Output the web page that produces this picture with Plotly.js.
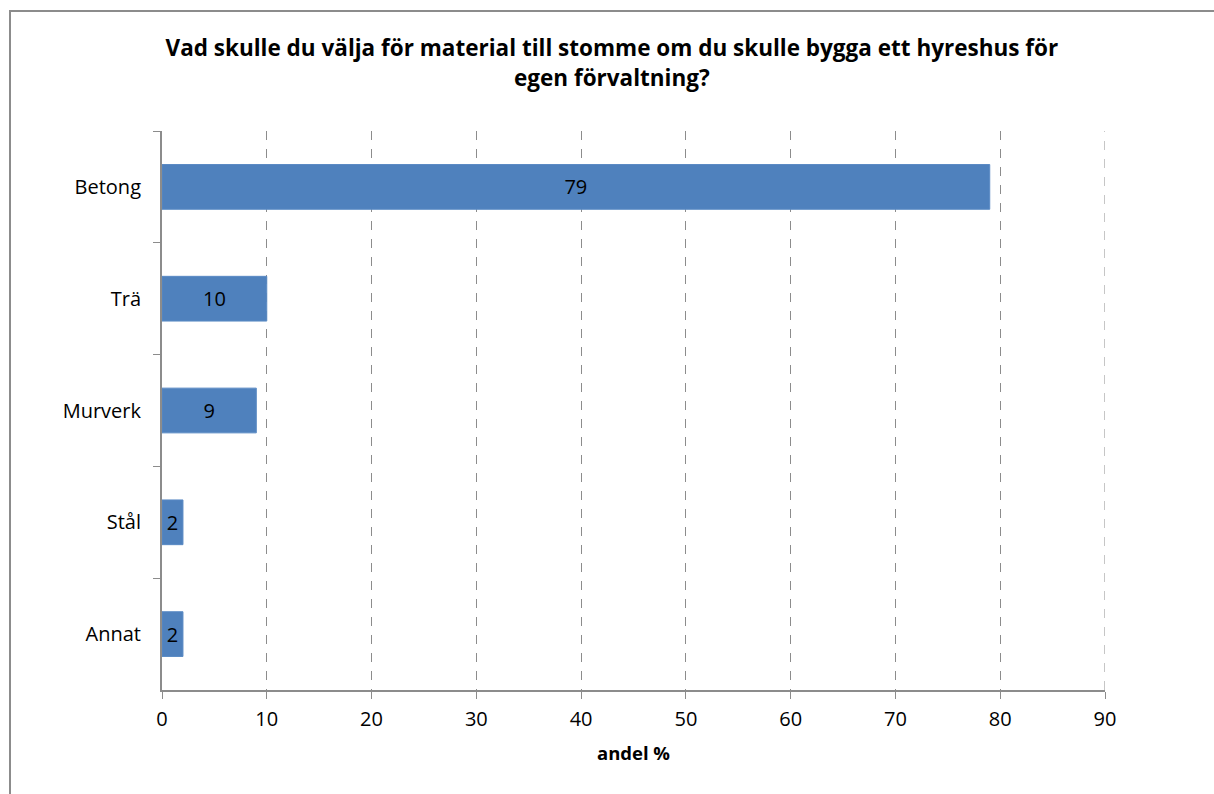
<!DOCTYPE html>
<html>
<head>
<meta charset="utf-8">
<script src="https://cdn.plot.ly/plotly-3.0.1.min.js"></script>
<style>
html,body{margin:0;padding:0;background:#fff;}
#frame{position:absolute;left:9px;top:10px;width:1220px;height:800px;border:2px solid #8c8c8c;box-sizing:border-box;pointer-events:none;}
#chart{position:absolute;left:0;top:0;width:1214px;height:794px;}
</style>
</head>
<body>
<div id="chart"></div>
<div id="frame"></div>
<script>
const categories = ["Betong", "Trä", "Murverk", "Stål", "Annat"];
const values = [79, 10, 9, 2, 2];
const xTicks = [0, 10, 20, 30, 40, 50, 60, 70, 80, 90];
const titleText = "Vad skulle du välja för material till stomme om du skulle bygga ett hyreshus för<br>egen förvaltning?";
const xTitle = "andel %";

const font = "Open Sans, Liberation Sans, sans-serif";

const trace = {
  type: "bar",
  orientation: "h",
  y: categories,
  x: values,
  text: values.map(String),
  textposition: "inside",
  insidetextanchor: "middle",
  constraintext: "none",
  textangle: 0,
  textfont: {family: font, size: 20, color: "#000"},
  marker: {color: "#4F81BD", line: {color: "#5a8ac4", width: 1}},
  hoverinfo: "none"
};

const lastTick = xTicks[xTicks.length - 1];

const layout = {
  width: 1214,
  height: 794,
  margin: {l: 162, r: 109, t: 131, b: 104},
  paper_bgcolor: "#fff",
  plot_bgcolor: "#fff",
  showlegend: false,
  bargap: 0.6,
  title: {
    text: "<b>" + titleText + "</b>",
    font: {family: font, size: 22.5, color: "#000"},
    x: 0.504, xanchor: "center",
    y: 0.929, yanchor: "middle"
  },
  shapes: [{
    type: "line", xref: "x", yref: "paper",
    x0: lastTick, x1: lastTick, y0: 0, y1: 1,
    line: {color: "#8c8c8c", width: 1, dash: "dash"}
  }],
  xaxis: {
    range: [0, 90],
    tickvals: xTicks,
    ticktext: xTicks.map(String),
    showgrid: true,
    gridcolor: "#8c8c8c",
    griddash: "dash",
    gridwidth: 1,
    zeroline: false,
    showline: true,
    linecolor: "#8c8c8c",
    linewidth: 2,
    ticks: "outside",
    ticklen: 7,
    tickcolor: "#8c8c8c",
    tickwidth: 1,
    tickfont: {family: font, size: 20, color: "#000"},
    ticklabelstandoff: 3,
    title: {text: "<b>" + xTitle + "</b>", font: {family: font, size: 18.5, color: "#000"}, standoff: 16},
    fixedrange: true
  },
  yaxis: {
    type: "category",
    autorange: "reversed",
    showgrid: false,
    zeroline: false,
    showline: true,
    linecolor: "#8c8c8c",
    linewidth: 2,
    ticks: "outside",
    tickson: "boundaries",
    ticklen: 7,
    tickcolor: "#8c8c8c",
    tickwidth: 1,
    tickfont: {family: font, size: 20, color: "#000"},
    ticklabelstandoff: 15,
    fixedrange: true
  }
};

Plotly.newPlot("chart", [trace], layout, {displayModeBar: false, staticPlot: true});
</script>
</body>
</html>
